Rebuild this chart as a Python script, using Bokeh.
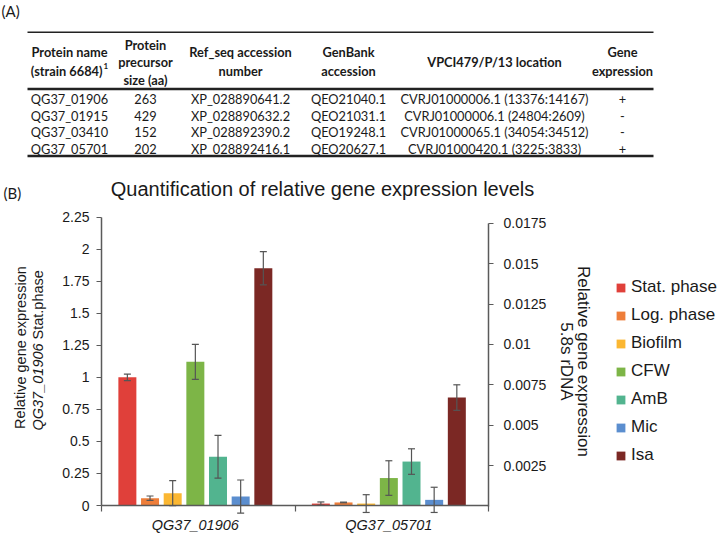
from bokeh.plotting import figure
from bokeh.models import (Range1d, LinearAxis, FixedTicker, Legend, LegendItem,
                          ColumnDataSource, Whisker, TeeHead)
from bokeh.core.properties import value
from bokeh.embed import file_html
from bokeh.resources import INLINE

# ------------------------------------------------------------------ table data
header_col1 = ["Protein name", "(strain 6684)"]
header_col2 = ["Protein", "precursor", "size (aa)"]
header_col3 = ["Ref_seq accession", "number"]
header_col4 = ["GenBank", "accession"]
header_col5 = ["VPCI479/P/13 location"]
header_col6 = ["Gene", "expression"]
footnote_mark = "1"

protein_names = ["QG37_01906", "QG37_01915", "QG37_03410", "QG37_05701"]
precursor_sizes = ["263", "429", "152", "202"]
refseq_numbers = ["XP_028890641.2", "XP_028890632.2", "XP_028892390.2", "XP_028892416.1"]
genbank_accessions = ["QEO21040.1", "QEO21031.1", "QEO19248.1", "QEO20627.1"]
locations = ["CVRJ01000006.1 (13376:14167)", "CVRJ01000006.1 (24804:2609)",
             "CVRJ01000065.1 (34054:34512)", "CVRJ01000420.1 (3225:3833)"]
gene_expression = ["+", "-", "-", "+"]

# ------------------------------------------------------------------ chart data
genes = ["QG37_01906", "QG37_05701"]
conditions = ["Stat. phase", "Log. phase", "Biofilm", "CFW", "AmB", "Mic", "Isa"]
colors = ["#E0403A", "#EE7E3A", "#FBB732", "#7DB547", "#52B48F", "#5B8ECF", "#7B2824"]
expr_01906 = [1.0, 0.057, 0.096, 1.121, 0.38, 0.07, 1.852]
err_01906 = [0.026, 0.017, 0.098, 0.136, 0.167, 0.129, 0.13]
expr_05701 = [0.00015, 0.00022, 0.00015, 0.00173, 0.00275, 0.00038, 0.00671]
err_05701 = [0.0001, 0.00002, 0.00055, 0.00107, 0.00079, 0.00078, 0.00079]
left_ticks = [0, 0.25, 0.5, 0.75, 1, 1.25, 1.5, 1.75, 2, 2.25]
left_tick_labels = ["0", "0.25", "0.5", "0.75", "1", "1.25", "1.5", "1.75", "2", "2.25"]
right_ticks = [0.0025, 0.005, 0.0075, 0.01, 0.0125, 0.015, 0.0175]
right_tick_labels = ["0.0025", "0.005", "0.0075", "0.01", "0.0125", "0.015", "0.0175"]

title_text = "Quantification of relative gene expression levels"
left_label_1 = "Relative gene expression"
left_label_2a = "QG37_01906"
left_label_2b = "Stat.phase"
right_label_1 = "Relative gene expression"
right_label_2 = "5.8s rDNA"

TXT = "#1a1a1a"
AX = "#5a5a5a"
SANS = "Liberation Sans"

# ================================================================== single canvas
W, H = 720, 533
p = figure(width=W, height=H, x_range=Range1d(0, W), y_range=Range1d(H, 0),
           x_axis_type=None, y_axis_type=None, min_border=0, title=None,
           output_backend="svg", toolbar_location=None)
p.outline_line_color = None
p.grid.visible = False
p.background_fill_color = "white"
p.border_fill_color = "white"

# ---------------- table (pixel layout) ----------------
col_x = [69, 145, 240, 348, 494, 622]
rule_x0, rule_x1 = 27, 653
rule_y = [31.7, 88.5, 155.5]
rule_w = [1.5, 2.4, 2.4]
row_y = [98.3, 115.0, 131.7, 148.3]

p.segment(x0=[rule_x0] * 3, x1=[rule_x1] * 3, y0=rule_y, y1=rule_y,
          line_width=rule_w, line_color="#222222")

p.text(x=[1], y=[10], text=["(A)"], text_align="left", text_baseline="middle",
       text_font=value("Lato"), text_font_size="15px", text_color=TXT)

hx, hy, ht = [], [], []
pos1, pos2, pos3 = [61.7], [51.7, 70.7], [44.3, 61.7, 79.3]
for ci, lines in enumerate([header_col1, header_col2, header_col3, header_col4, header_col5, header_col6]):
    ys = {1: pos1, 2: pos2, 3: pos3}[len(lines)]
    for li, s in enumerate(lines):
        if ci == 0 and li == 1:
            continue
        hx.append(col_x[ci]); hy.append(ys[li]); ht.append(s)
p.text(x=hx, y=hy, text=ht, text_align="center", text_baseline="middle",
       text_font=value("Lato"), text_font_style="bold", text_font_size="12.8px", text_color=TXT)
p.text(x=[102], y=[pos2[1]], text=[header_col1[1]], text_align="right", text_baseline="middle",
       text_font=value("Lato"), text_font_style="bold", text_font_size="12.8px", text_color=TXT)
p.text(x=[103], y=[pos2[1] - 5], text=[footnote_mark], text_align="left", text_baseline="middle",
       text_font=value("Lato"), text_font_style="bold", text_font_size="8px", text_color=TXT)

bx, by, bt = [], [], []
for ci, col in enumerate([protein_names, precursor_sizes, refseq_numbers,
                          genbank_accessions, locations, gene_expression]):
    for ri, s in enumerate(col):
        bx.append(col_x[ci]); by.append(row_y[ri]); bt.append(s)
p.text(x=bx, y=by, text=bt, text_align="center", text_baseline="middle",
       text_font=value("Lato"), text_font_size="12.8px", text_color=TXT)

# ---------------- chart scales anchored to pixel positions ----------------
def pix_range(v0, p0, v1, p1, total):
    s = (p1 - p0) / (v1 - v0)
    start = v0 - p0 / s
    return Range1d(start, start + total / s)

p.extra_x_ranges = {"cx": pix_range(0, 101, 2, 488, W)}
p.extra_y_ranges = {"cl": pix_range(0, H - 505.0, 2.25, H - 216.7, H),
                    "cr": pix_range(0, H - 505.5, 0.0175, H - 222.7, H)}

slot = 0.1171
bar_w = 0.093
group_shift = -0.015
group_centers = [gi + 0.5 + group_shift for gi in range(len(genes))]

legend_items = []
for gi, (vals, errs, rng) in enumerate([(expr_01906, err_01906, "cl"),
                                        (expr_05701, err_05701, "cr")]):
    xs = [group_centers[gi] + (j - 3) * slot for j in range(len(conditions))]
    for j, c in enumerate(conditions):
        r = p.vbar(x=[xs[j]], top=[vals[j]], width=bar_w, fill_color=colors[j],
                   line_color=None, x_range_name="cx", y_range_name=rng)
        if gi == 0:
            legend_items.append(LegendItem(label=c, renderers=[r]))
    src = ColumnDataSource(dict(x=xs, upper=[v + e for v, e in zip(vals, errs)],
                                lower=[v - e for v, e in zip(vals, errs)]))
    w = Whisker(source=src, base="x", upper="upper", lower="lower", dimension="height",
                line_color="#555555", line_width=1.2, x_range_name="cx", y_range_name=rng,
                level="overlay",
                upper_head=TeeHead(size=7, line_color="#555555", line_width=1.2),
                lower_head=TeeHead(size=7, line_color="#555555", line_width=1.2))
    p.add_layout(w)

ya = LinearAxis(x_range_name="cx", y_range_name="cl", fixed_location=0, bounds=(0, 2.25),
                ticker=FixedTicker(ticks=left_ticks))
ya.major_label_overrides = dict(zip(left_ticks, left_tick_labels))
ra = LinearAxis(x_range_name="cx", y_range_name="cr", fixed_location=2, bounds=(0, 0.0175),
                ticker=FixedTicker(ticks=right_ticks))
ra.major_label_overrides = dict(zip(right_ticks, right_tick_labels))
xa = LinearAxis(x_range_name="cx", y_range_name="cl", fixed_location=0, bounds=(0, 2),
                ticker=FixedTicker(ticks=group_centers, minor_ticks=[0, 1, 2]))
xa.major_label_overrides = dict(zip(group_centers, genes))

for ax in [ya, xa, ra]:
    ax.axis_line_color = AX
    ax.axis_line_width = 1.5
    ax.major_tick_line_color = AX
    ax.major_tick_line_width = 1.2
    ax.minor_tick_line_color = AX
    ax.minor_tick_line_width = 1.2
    ax.major_tick_in = 0
    ax.minor_tick_in = 0
    ax.minor_tick_out = 0
    ax.major_label_text_font = SANS
    ax.major_label_text_color = TXT
for ax in [ya, ra]:
    ax.major_tick_out = 5
    ax.major_label_text_font_size = "14px"
ya.major_label_standoff = 7
ra.major_label_standoff = 10
xa.major_tick_out = 0
xa.minor_tick_out = 6
xa.major_label_standoff = 5
xa.major_label_text_font_size = "14.5px"
xa.major_label_text_font_style = "italic"

p.add_layout(ya, "left")
p.add_layout(ra, "right")
p.add_layout(xa, "below")

n_items = len(conditions)
legend_h = n_items * 20 + (n_items - 1) * 8
legend = Legend(items=legend_items, location=(615, H - 277.3 - legend_h), orientation="vertical",
                glyph_width=11, glyph_height=11, label_standoff=5, spacing=8,
                label_height=20, padding=0, margin=0, border_line_alpha=0,
                background_fill_alpha=0, label_text_font=SANS,
                label_text_font_size="17px", label_text_color=TXT)
p.add_layout(legend)

# ---------------- chart texts ----------------
HALF_PI = 1.5707963
p.text(x=[3], y=[192], text=["(B)"], text_align="left", text_baseline="middle",
       text_font=value("Lato"), text_font_size="15px", text_color=TXT)
p.text(x=[322], y=[188], text=[title_text], text_align="center", text_baseline="middle",
       text_font=value(SANS), text_font_size="20px", text_color=TXT)
p.text(x=[20], y=[347], text=[left_label_1], angle=HALF_PI, text_align="center",
       text_baseline="middle", text_font=value(SANS), text_font_size="14.5px", text_color=TXT)
p.text(x=[37], y=[430], text=[left_label_2a], angle=HALF_PI, text_align="left",
       text_baseline="middle", text_font=value(SANS), text_font_style="italic",
       text_font_size="14.5px", text_color=TXT)
p.text(x=[37], y=[339], text=[left_label_2b], angle=HALF_PI, text_align="left",
       text_baseline="middle", text_font=value(SANS), text_font_size="14.5px", text_color=TXT)
p.text(x=[583, 566], y=[361, 361], text=[right_label_1, right_label_2], angle=-HALF_PI,
       text_align="center", text_baseline="middle", text_font=value(SANS),
       text_font_size="17px", text_color=TXT)

open("out.html", "w").write(file_html(p, INLINE))
